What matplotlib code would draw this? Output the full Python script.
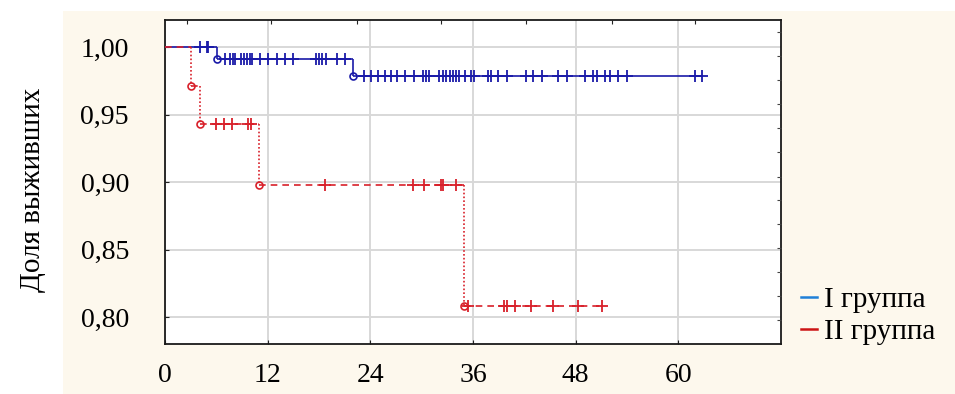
import numpy as np
import matplotlib
matplotlib.use("Agg")
import matplotlib.pyplot as plt
from matplotlib.patches import Rectangle
from matplotlib.lines import Line2D

plt.rcParams['font.family'] = ['Liberation Serif', 'DejaVu Serif']

# Kaplan-Meier data, months
# group I
g1_events = [6.1, 22.0]
g1_levels = [0.991, 0.9785]
g1_censored = [4.1, 4.9, 5.0,
               7.0, 7.6, 7.9, 8.2, 8.9, 9.2, 9.6, 9.9, 10.2, 11.1, 12.0, 13.1,
               14.0, 15.0, 17.6, 18.0, 18.3, 18.8, 20.1, 21.0,
               23.3, 24.1, 24.9, 25.7, 26.4, 27.1, 28.1, 29.1, 30.2, 30.5,
               30.9, 32.0, 32.5, 32.9, 33.3, 33.7, 34.0, 34.4, 35.1, 35.8,
               36.1, 37.8, 38.1, 38.9, 40.0, 42.2, 43.0, 44.1, 45.9, 47.0,
               49.1, 50.0, 50.5, 51.4, 52.0, 52.9, 54.0, 61.9, 62.8]

# group II
g2_events = [3.0, 4.1, 11.0, 35.0]
g2_levels = [0.971, 0.9427, 0.898, 0.808]
g2_censored = [6.0, 6.9, 7.8, 9.7, 10.1,
               18.7, 29.0, 30.3, 32.3, 32.5, 34.0,
               35.4, 39.6, 40.0, 40.9, 42.8, 45.3, 48.3, 51.1]

x_ticks = [0, 12, 24, 36, 48, 60]
y_ticks = [0.80, 0.85, 0.90, 0.95, 1.00]
y_labels = ["0,80", "0,85", "0,90", "0,95", "1,00"]
group_names = ["I группа", "II группа"]

# leftover ticks of the frame on the top and right sides
top_ticks = [2.6, 12.4, 22.4, 32.3, 42.2, 52.2, 61.9]
right_ticks = [1.0111, 0.9933, 0.9756, 0.9578, 0.94, 0.9222, 0.9037,
               0.8867, 0.8689, 0.8511, 0.8333, 0.8156, 0.7978]


def level_at(t, events, levels):
    lv = np.concatenate(([1.0], levels))
    idx = np.searchsorted(events, t, side='right')
    return lv[idx]


def draw_km(ax, events, levels, censored, color, hstyle, vstyle, lw):
    t_end = max(censored)
    starts = np.concatenate(([0.0], events))
    ends = np.concatenate((events, [t_end]))
    lv = np.concatenate(([1.0], levels))
    ax.hlines(lv, starts, ends, colors=color, linestyles=hstyle, lw=lw, zorder=3)
    ax.vlines(events, lv[:-1], lv[1:], colors=color, linestyles=vstyle, lw=lw, zorder=3)
    ax.plot(events, levels, 'o', ms=5, mfc='none', mec=color, mew=1.2, zorder=4)
    c = np.array(censored)
    ax.plot(c, level_at(c, events, levels), '+', ms=8, mew=1.3, color=color, zorder=4)


fig = plt.figure(figsize=(9.55, 3.94), dpi=100)
fig.patch.set_facecolor('white')
fig.patches.append(Rectangle((63 / 955, 0), 1, 1 - 11 / 394, transform=fig.transFigure,
                             facecolor='#fdf8ed', edgecolor='none', zorder=-5))

ax = fig.add_axes([165 / 955, 1 - 344 / 394, 616 / 955, 324 / 394])
ax.set_facecolor('white')

blue = '#1a1aa8'
red = '#d8202a'
draw_km(ax, g1_events, g1_levels, g1_censored, blue, 'solid', 'solid', 1.2)
draw_km(ax, g2_events, g2_levels, g2_censored, red, (0, (4, 3)), (0, (1, 1.3)), 1.2)

ax.set_xlim(0, 72)
ax.set_ylim(0.78, 1.02)
ax.set_xticks(x_ticks)
ax.set_xticklabels([str(v) for v in x_ticks])
ax.set_yticks(y_ticks)
ax.set_yticklabels(y_labels)
ax.grid(True, color='#d8d8d8', lw=1.4)
ax.set_axisbelow(True)
ax.tick_params(axis='both', direction='in', length=3, labelsize=20, color='#222222')
ax.tick_params(axis='x', pad=14)
ax.tick_params(axis='y', pad=26)
for s in ax.spines.values():
    s.set_color('#1a1a1a')
    s.set_linewidth(1.3)

ax_top = ax.twiny()
ax_top.set_xlim(ax.get_xlim())
ax_top.set_xticks(top_ticks)
ax_top.tick_params(axis='x', direction='in', length=3, labeltop=False, color='#222222')
ax_right = ax.twinx()
ax_right.set_ylim(ax.get_ylim())
ax_right.set_yticks(right_ticks)
ax_right.tick_params(axis='y', direction='in', length=3, labelright=False, color='#444444')
for a in (ax_top, ax_right):
    for s in a.spines.values():
        s.set_visible(False)

fig.text(33 / 955, 1 - 190 / 394, 'Доля выживших', rotation=90,
         ha='center', va='center', fontsize=21)

handles = [Line2D([], [], color='#1f80d8', lw=1.8), Line2D([], [], color='#cc1414', lw=1.8)]
fig.legend(handles, group_names, loc='center left', bbox_to_anchor=(801 / 955, 1 - 316 / 394),
           frameon=False, fontsize=21, handlelength=0.55, handletextpad=0.25,
           labelspacing=0.2, borderpad=0, borderaxespad=0)

fig.savefig('out.png', dpi=100, facecolor=fig.get_facecolor())
